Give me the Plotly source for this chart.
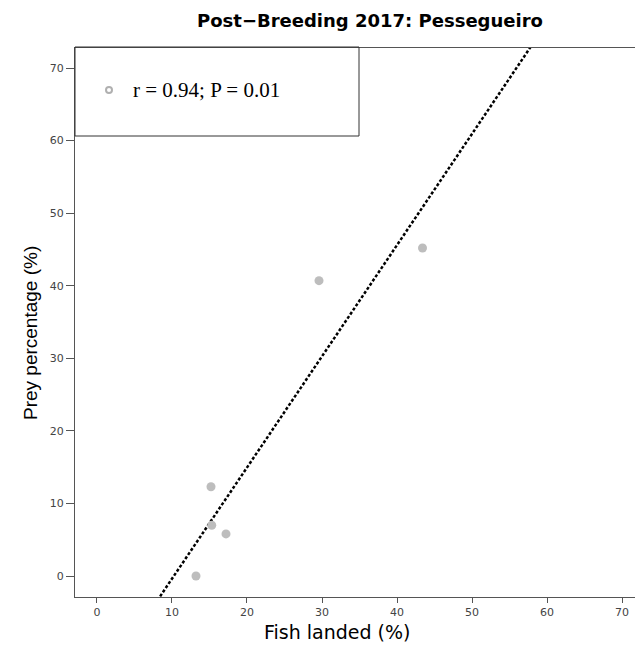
import numpy as np
import plotly.graph_objects as go

# Data
fish_landed = [13.2, 15.2, 15.3, 17.2, 29.6, 43.4]
prey_percentage = [0.0, 12.3, 7.0, 5.8, 40.7, 45.2]
x_ticks = [0, 10, 20, 30, 40, 50, 60, 70]
y_ticks = [0, 10, 20, 30, 40, 50, 60, 70]
legend_label = "r = 0.94; P = 0.01"
title_text = "Post\u2212Breeding 2017: Pessegueiro"

# Least-squares fit line
slope, intercept = np.polyfit(fish_landed, prey_percentage, 1)
fit_x = [-5, 80]
fit_y = [intercept + slope * v for v in fit_x]

W, H = 635, 647
L, R, T, B = 75, 0, 48, 50
pw, ph = W - L - R, H - T - B

def px(xp):
    return (xp - L) / pw

def py(yp):
    return (H - B - yp) / ph

fig = go.Figure()
fig.add_trace(go.Scatter(
    x=fit_x, y=fit_y, mode="lines",
    line=dict(color="black", width=2.5, dash="3px,2px"),
    showlegend=False, hoverinfo="skip"))
fig.add_trace(go.Scatter(
    x=fish_landed, y=prey_percentage, mode="markers",
    marker=dict(color="#bdbdbd", size=9, line=dict(width=0)),
    showlegend=False))

axis_common = dict(
    showgrid=False, zeroline=False, showline=True, linecolor="#555555", linewidth=1,
    ticks="outside", tickcolor="#555555", tickwidth=1,
    tickfont=dict(family="DejaVu Sans", size=11, color="#444444"),
)
fig.update_layout(
    width=W, height=H,
    margin=dict(l=L, r=R, t=T, b=B),
    paper_bgcolor="white", plot_bgcolor="white",
    xaxis=dict(range=[-2.93, 71.73], tickvals=x_ticks, mirror=True, ticklen=5, **axis_common),
    yaxis=dict(range=[-2.89, 72.76], tickvals=y_ticks, ticklen=8, **axis_common),
    showlegend=False,
)

# Legend box
fig.add_shape(type="rect", xref="paper", yref="paper",
              x0=px(75), x1=px(359), y0=py(136), y1=py(47),
              line=dict(color="#333333", width=1), fillcolor="rgba(0,0,0,0)")
fig.add_trace(go.Scatter(
    x=[px(109)], y=[py(90)], xaxis="x2", yaxis="y2", mode="markers",
    marker=dict(symbol="circle-open", color="#b0b0b0", size=6, line=dict(width=2)),
    showlegend=False, hoverinfo="skip"))
fig.update_layout(
    xaxis2=dict(range=[0, 1], domain=[0, 1], overlaying="x", visible=False, fixedrange=True),
    yaxis2=dict(range=[0, 1], domain=[0, 1], overlaying="y", visible=False, fixedrange=True),
)
fig.add_annotation(text=legend_label, xref="paper", yref="paper",
                   x=px(131), y=py(90), xanchor="left", yanchor="middle",
                   showarrow=False,
                   font=dict(family="Liberation Serif", size=21, color="black"))

# Titles
fig.add_annotation(text="<b>" + title_text + "</b>", xref="paper", yref="paper",
                   x=px(370), y=py(21), xanchor="center", yanchor="middle",
                   showarrow=False,
                   font=dict(family="DejaVu Sans", size=18, color="black"))
fig.add_annotation(text="Fish landed (%)", xref="paper", yref="paper",
                   x=px(337), y=py(632), xanchor="center", yanchor="middle",
                   showarrow=False,
                   font=dict(family="DejaVu Sans", size=19, color="black"))
fig.add_annotation(text="Prey percentage (%)", xref="paper", yref="paper",
                   x=px(30), y=py(333), xanchor="center", yanchor="middle",
                   textangle=-90, showarrow=False,
                   font=dict(family="Liberation Sans", size=19, color="black"))

fig.write_html("out.html")
